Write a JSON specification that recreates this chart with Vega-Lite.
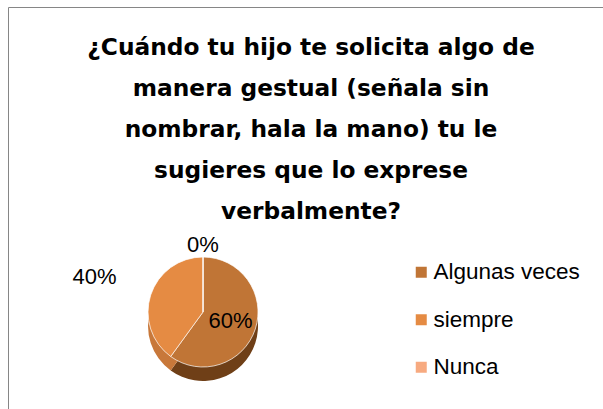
{
  "$schema": "https://vega.github.io/schema/vega-lite/v6.json",
  "autosize": "none",
  "width": 606,
  "height": 410,
  "padding": {"left": 8, "top": 7, "right": 0, "bottom": 0},
  "background": "white",
  "view": {"stroke": "#868686", "strokeWidth": 1, "fill": null},
  "config": {
    "font": "Liberation Sans"
  },
  "title": {
    "text": ["¿Cuándo tu hijo te solicita algo de", "manera gestual (señala sin", "nombrar, hala la mano) tu le", "sugieres que lo exprese", "verbalmente?"],
    "font": "DejaVu Sans",
    "fontSize": 23.3,
    "fontWeight": "bold",
    "color": "#000000",
    "lineHeight": 41,
    "anchor": "middle",
    "frame": "group",
    "orient": "top",
    "baseline": "top",
    "offset": -217
  },
  "data": {
    "values": [
      {"cat": "Algunas veces", "pct": 60, "label": "60%"},
      {"cat": "siempre", "pct": 40, "label": "40%"},
      {"cat": "Nunca", "pct": 0, "label": "0%"}
    ]
  },
  "encoding": {
    "theta": {"field": "pct", "type": "quantitative", "stack": true, "scale": {"domain": [0, 100]}},
    "order": {"field": "pct", "type": "quantitative", "sort": "descending"}
  },
  "layer": [
    {
      "mark": {"type": "arc", "radius": 55, "x": {"expr": "width*0.3218"}, "y": {"expr": "height*0.7439"}, "yOffset": 14},
      "encoding": {
        "color": {"condition": {"test": "datum.cat == 'Algunas veces'", "value": "#6f3f17"}, "value": "#c8783a"}
      }
    },
    {
      "mark": {"type": "arc", "radius": 55, "x": {"expr": "width*0.3218"}, "y": {"expr": "height*0.7439"}, "stroke": "white", "strokeWidth": 0.7},
      "encoding": {
        "color": {
          "field": "cat",
          "type": "nominal",
          "sort": ["Algunas veces", "siempre", "Nunca"],
          "scale": {"domain": ["Algunas veces", "siempre", "Nunca"], "range": ["#c07536", "#e58b43", "#f7aa80"]},
          "legend": {
            "title": null,
            "orient": "none",
            "legendX": 402,
            "legendY": 254,
            "symbolType": "square",
            "symbolSize": 121,
            "symbolStrokeWidth": 0,
            "labelFontSize": 22.5,
            "labelFont": "Liberation Sans",
            "labelColor": "#000000",
            "labelOffset": 1,
            "rowPadding": 24.5
          }
        }
      }
    },
    {
      "mark": {"type": "text", "radius": 29, "x": {"expr": "width*0.3218"}, "y": {"expr": "height*0.7439"}, "fontSize": 22, "font": "Liberation Sans", "color": "#000000"},
      "encoding": {"text": {"condition": {"test": "datum.cat == 'Algunas veces'", "field": "label"}, "value": ""}}
    },
    {
      "mark": {"type": "text", "radius": 114, "x": {"expr": "width*0.3218"}, "y": {"expr": "height*0.7439"}, "fontSize": 22, "font": "Liberation Sans", "color": "#000000"},
      "encoding": {"text": {"condition": {"test": "datum.cat == 'siempre'", "field": "label"}, "value": ""}}
    },
    {
      "mark": {"type": "text", "radius": 67, "x": {"expr": "width*0.3218"}, "y": {"expr": "height*0.7439"}, "fontSize": 22, "font": "Liberation Sans", "color": "#000000"},
      "encoding": {"text": {"condition": {"test": "datum.cat == 'Nunca'", "field": "label"}, "value": ""}}
    }
  ]
}
